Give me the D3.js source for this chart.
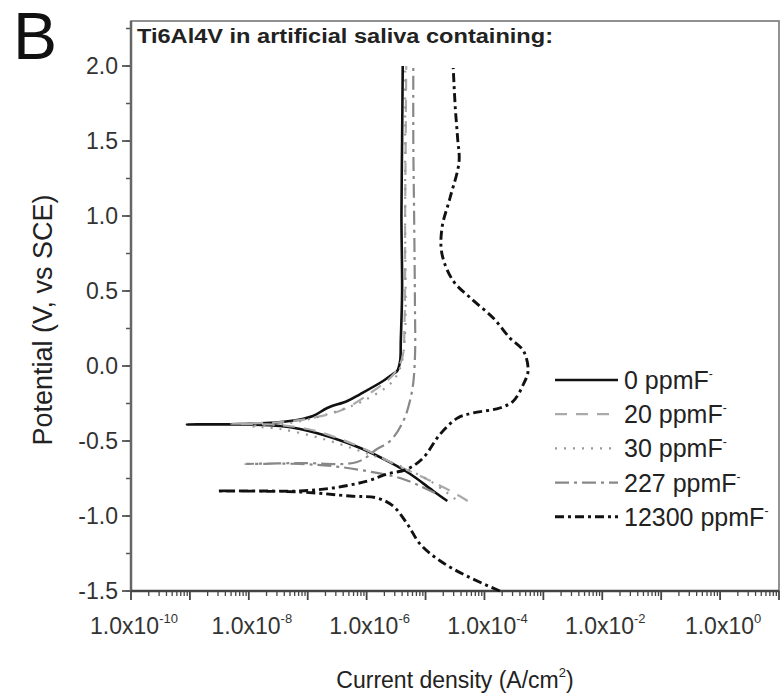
<!DOCTYPE html>
<html>
<head>
<meta charset="utf-8">
<script src="https://cdn.jsdelivr.net/npm/d3@7"></script>
<style>
  body { margin: 0; background: #fff; }
  text { font-family: "Liberation Sans", Arial, sans-serif; }
</style>
</head>
<body>
<div id="chart"></div>
<script>
// current density (A/cm2), potential (V vs SCE)
var ppm0 = [
  [2.34e-5, -0.90], [1.35e-5, -0.833], [5.5e-6, -0.72], [2.24e-6, -0.633], [7.8e-7, -0.547],
  [2.7e-7, -0.48], [7.4e-8, -0.42], [3.4e-8, -0.40], [1.05e-8, -0.39], [8.9e-10, -0.39],
  [1.05e-8, -0.385], [5.0e-8, -0.367], [1.23e-7, -0.333], [2.14e-7, -0.28], [4.7e-7, -0.233],
  [7.8e-7, -0.187], [1.9e-6, -0.10], [2.8e-6, -0.053], [3.3e-6, -0.033], [3.7e-6, 0.033],
  [3.8e-6, 0.167], [4.0e-6, 0.5], [3.9e-6, 1.0], [4.0e-6, 1.5], [4.1e-6, 2.0]
];
var ppm20 = [
  [5.2e-5, -0.90], [3.2e-5, -0.85], [1.0e-5, -0.75], [3.2e-6, -0.66], [1.0e-6, -0.56],
  [3.2e-7, -0.48], [1.0e-7, -0.42], [2.5e-8, -0.39], [5.0e-9, -0.385], [3.2e-8, -0.375],
  [1.26e-7, -0.345], [4.0e-7, -0.29], [1.26e-6, -0.17], [2.8e-6, -0.06], [4.0e-6, 0.05],
  [4.4e-6, 0.3], [4.5e-6, 1.0], [4.6e-6, 1.5], [4.7e-6, 2.0]
];
var ppm30 = [
  [3.2e-5, -0.887], [1.2e-5, -0.767], [3.7e-6, -0.667], [7.8e-7, -0.567], [1.6e-7, -0.48],
  [3.4e-8, -0.42], [1.05e-8, -0.40], [3.4e-8, -0.39], [1.1e-7, -0.353], [3.2e-7, -0.30],
  [8.7e-7, -0.233], [2.5e-6, -0.12], [3.7e-6, -0.013], [4.4e-6, 0.167], [4.5e-6, 1.0],
  [4.5e-6, 2.0]
];
var ppm227 = [
  [1.45e-5, -0.847], [8.1e-6, -0.80], [3.7e-6, -0.747], [1.5e-6, -0.713], [3.5e-7, -0.673],
  [7.4e-8, -0.653], [8.7e-9, -0.653], [7.4e-8, -0.647], [6.9e-7, -0.64], [1.5e-6, -0.553],
  [2.5e-6, -0.50], [4.2e-6, -0.367], [5.9e-6, -0.167], [6.6e-6, 0.053], [6.6e-6, 0.43],
  [6.4e-6, 1.0], [6.2e-6, 1.5], [6.2e-6, 2.0]
];
var ppm12300 = [
  [1.82e-4, -1.5], [5.0e-5, -1.40], [1.78e-5, -1.30], [8.1e-6, -1.187], [4.9e-6, -1.053],
  [2.8e-6, -0.933], [1.5e-6, -0.88], [5.2e-7, -0.867], [7.4e-8, -0.84], [2.9e-9, -0.833],
  [1.55e-8, -0.833], [7.4e-8, -0.833], [2.7e-7, -0.813], [1.02e-6, -0.767], [2.24e-6, -0.72],
  [4.9e-6, -0.687], [9.1e-6, -0.613], [1.78e-5, -0.453], [3.5e-5, -0.347], [6.5e-5, -0.313],
  [1.82e-4, -0.28], [3.1e-4, -0.233], [4.6e-4, -0.12], [5.5e-4, -0.033], [4.6e-4, 0.10],
  [2.7e-4, 0.187], [1.41e-4, 0.32], [5.8e-5, 0.453], [2.95e-5, 0.567], [1.9e-5, 0.747],
  [1.9e-5, 0.92], [2.6e-5, 1.12], [3.7e-5, 1.36], [3.5e-5, 1.52], [3.2e-5, 1.72], [2.95e-5, 1.987]
];

var seriesNames = ["0 ppmF", "20 ppmF", "30 ppmF", "227 ppmF", "12300 ppmF"];
var seriesData = [ppm0, ppm20, ppm30, ppm227, ppm12300];
var yTicks = [-1.5, -1.0, -0.5, 0.0, 0.5, 1.0, 1.5, 2.0];
var xTickLabels = [1e-10, 1e-8, 1e-6, 1e-4, 1e-2, 1e0];

var styles = [
  {color: "#111", width: 2.6, dash: null},
  {color: "#aaa", width: 2.2, dash: "12,9"},
  {color: "#999", width: 2.2, dash: "2,7"},
  {color: "#888", width: 2.2, dash: "14,5,3,5"},
  {color: "#111", width: 2.9, dash: "9,4,3,4"}
];

var w = 784, h = 698;
var pLeft = 131, pRight = 779, pTop = 21, pBottom = 591;

var svg = d3.select("#chart").append("svg")
    .attr("width", w)
    .attr("height", h);

var x = d3.scaleLog().domain([1e-10, 1e1]).range([pLeft, pRight]);
var y = d3.scaleLinear().domain([-1.5, 2.3]).range([pBottom, pTop]);

// frame
svg.append("rect")
    .attr("x", pLeft).attr("y", pTop)
    .attr("width", pRight - pLeft).attr("height", pBottom - pTop)
    .attr("fill", "none")
    .attr("stroke", "#777")
    .attr("stroke-width", 1.6);

// y axis
var yMinor = d3.range(-1.5, 2.3, 0.25);
svg.selectAll(".yminor").data(yMinor).enter().append("line")
    .attr("x1", pLeft - 5).attr("x2", pLeft)
    .attr("y1", function(d) { return y(d); })
    .attr("y2", function(d) { return y(d); })
    .attr("stroke", "#555").attr("stroke-width", 1.5);
svg.selectAll(".ymajor").data(yTicks).enter().append("line")
    .attr("x1", pLeft - 9).attr("x2", pLeft)
    .attr("y1", function(d) { return y(d); })
    .attr("y2", function(d) { return y(d); })
    .attr("stroke", "#555").attr("stroke-width", 1.8);
svg.selectAll(".ylab").data(yTicks).enter().append("text")
    .attr("x", pLeft - 13)
    .attr("y", function(d) { return y(d) + 8; })
    .attr("text-anchor", "end")
    .attr("font-size", 23)
    .attr("fill", "#333")
    .text(function(d) { return d3.format(".1f")(d).replace("−", "-"); });
svg.append("line")
    .attr("x1", pLeft).attr("x2", pLeft).attr("y1", pTop).attr("y2", pBottom)
    .attr("stroke", "#666").attr("stroke-width", 2.5);

// x axis
var xMinor = [];
for (var e = -10; e < 1; e++) {
  for (var m = 2; m < 10; m++) xMinor.push(m * Math.pow(10, e));
}
var xMajor = x.ticks().filter(function(d) { return Math.abs(Math.log10(d) - Math.round(Math.log10(d))) < 1e-9; });
svg.selectAll(".xminor").data(xMinor).enter().append("line")
    .attr("x1", function(d) { return x(d); })
    .attr("x2", function(d) { return x(d); })
    .attr("y1", pBottom).attr("y2", pBottom + 5)
    .attr("stroke", "#444").attr("stroke-width", 1.3);
svg.selectAll(".xmajor").data(xMajor).enter().append("line")
    .attr("x1", function(d) { return x(d); })
    .attr("x2", function(d) { return x(d); })
    .attr("y1", pBottom).attr("y2", pBottom + 9)
    .attr("stroke", "#444").attr("stroke-width", 1.8);
svg.append("line")
    .attr("x1", pLeft).attr("x2", pRight).attr("y1", pBottom).attr("y2", pBottom)
    .attr("stroke", "#444").attr("stroke-width", 2.5);

var xl = svg.selectAll(".xlab").data(xTickLabels).enter().append("text")
    .attr("x", function(d) { return x(d) + 3; })
    .attr("y", pBottom + 43)
    .attr("text-anchor", "middle")
    .attr("font-size", 23)
    .attr("fill", "#333");
xl.append("tspan").text("1.0x10");
xl.append("tspan")
    .attr("font-size", 13)
    .attr("dy", -11)
    .text(function(d) { return String(Math.round(Math.log10(d))); });

// axis titles
var xt = svg.append("text")
    .attr("x", 455).attr("y", 688)
    .attr("text-anchor", "middle")
    .attr("font-size", 23)
    .attr("fill", "#222");
xt.append("tspan").text("Current density (A/cm");
xt.append("tspan").attr("font-size", 13).attr("dy", -11).text("2");
xt.append("tspan").attr("dy", 11).text(")");

svg.append("text")
    .attr("transform", "translate(52,320) rotate(-90)")
    .attr("text-anchor", "middle")
    .attr("font-size", 27)
    .attr("fill", "#222")
    .text("Potential (V, vs SCE)");

// panel letter and title
svg.append("text")
    .attr("x", 13).attr("y", 59)
    .attr("font-size", 66)
    .attr("fill", "#111")
    .text("B");
svg.append("text")
    .attr("x", 137).attr("y", 43)
    .attr("font-size", 20)
    .attr("font-weight", "bold")
    .attr("fill", "#222")
    .attr("textLength", 416)
    .attr("lengthAdjust", "spacingAndGlyphs")
    .text("Ti6Al4V in artificial saliva containing:");

// curves
var line = d3.line()
    .x(function(d) { return x(d[0]); })
    .y(function(d) { return y(d[1]); })
    .curve(d3.curveCatmullRom.alpha(0.5));

svg.selectAll(".curve").data(seriesData).enter().append("path")
    .attr("d", line)
    .attr("fill", "none")
    .attr("stroke", function(d, i) { return styles[i].color; })
    .attr("stroke-width", function(d, i) { return styles[i].width; })
    .attr("stroke-dasharray", function(d, i) { return styles[i].dash; })
    .attr("stroke-linejoin", "round");

// legend
var legend = svg.selectAll(".legend").data(seriesNames).enter().append("g")
    .attr("transform", function(d, i) { return "translate(555," + (380 + i * 34.2) + ")"; });
legend.append("line")
    .attr("x1", 0).attr("x2", 63)
    .attr("stroke", function(d, i) { return styles[i].color; })
    .attr("stroke-width", function(d, i) { return styles[i].width; })
    .attr("stroke-dasharray", function(d, i) { return styles[i].dash; });
var lt = legend.append("text")
    .attr("x", 69).attr("y", 9)
    .attr("font-size", 25)
    .attr("fill", "#222")
    .text(function(d) { return d; });
lt.append("tspan")
    .attr("font-size", 12)
    .attr("dy", -11)
    .text("-");
</script>
</body>
</html>
